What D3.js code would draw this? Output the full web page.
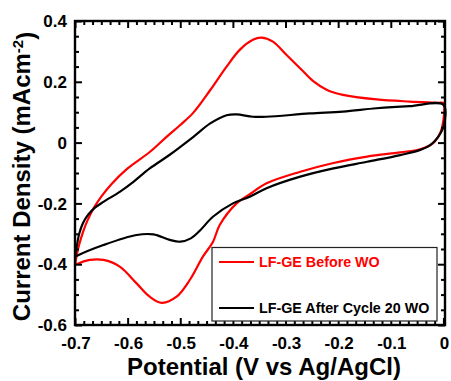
<!DOCTYPE html>
<html>
<head>
<meta charset="utf-8">
<script src="https://cdn.jsdelivr.net/npm/d3@7"></script>
<style>
  html, body { margin: 0; padding: 0; background: #fff; }
  svg { display: block; }
  text { font-family: Arial, "Liberation Sans", sans-serif; font-weight: bold; }
</style>
</head>
<body>
<svg id="chart" width="451" height="381"></svg>
<script>
// ---------- data ----------
const seriesNames = ["LF-GE Before WO", "LF-GE After Cycle 20 WO"];
const seriesColors = ["#ff0000", "#000000"];

const xTickValues = [-0.7, -0.6, -0.5, -0.4, -0.3, -0.2, -0.1, 0];
const xTickLabels = ["-0.7", "-0.6", "-0.5", "-0.4", "-0.3", "-0.2", "-0.1", "0"];
const yTickValues = [-0.6, -0.4, -0.2, 0, 0.2, 0.4];
const yTickLabels = ["-0.6", "-0.4", "-0.2", "0", "0.2", "0.4"];

// Before WO (red): anodic scan -0.7 -> 0, then cathodic scan 0 -> -0.7
const beforePotential = [-0.700, -0.697, -0.692, -0.685, -0.676, -0.664, -0.649, -0.630, -0.600, -0.558,
  -0.526, -0.500, -0.476, -0.443, -0.412, -0.387, -0.362, -0.346, -0.324, -0.298,
  -0.272, -0.248, -0.222, -0.191, -0.127, -0.064, -0.010, 0.000,
  0.000, -0.006, -0.019, -0.044, -0.082, -0.145, -0.209, -0.272, -0.336, -0.368,
  -0.393, -0.425, -0.438, -0.457, -0.482, -0.507, -0.535, -0.558, -0.583, -0.615,
  -0.646, -0.672, -0.697, -0.700];
const beforeCurrent = [-0.403, -0.372, -0.335, -0.295, -0.255, -0.214, -0.175, -0.135, -0.085, -0.031,
  0.019, 0.058, 0.097, 0.173, 0.250, 0.305, 0.338, 0.345, 0.332, 0.288,
  0.244, 0.203, 0.174, 0.157, 0.142, 0.135, 0.131, 0.130,
  0.074, 0.032, -0.001, -0.022, -0.032, -0.046, -0.067, -0.096, -0.134, -0.170,
  -0.200, -0.271, -0.327, -0.375, -0.452, -0.507, -0.527, -0.507, -0.463, -0.408,
  -0.386, -0.386, -0.400, -0.403];

// After cycle 20 WO (black)
const afterPotential = [-0.700, -0.697, -0.692, -0.685, -0.675, -0.662, -0.646, -0.615, -0.589, -0.558, -0.520,
  -0.475, -0.443, -0.412, -0.393, -0.362, -0.336, -0.254, -0.191, -0.127, -0.064, 0.000,
  0.000, -0.010, -0.025, -0.044, -0.082, -0.145, -0.209, -0.272, -0.336, -0.368,
  -0.400, -0.438, -0.463, -0.480, -0.500, -0.520, -0.551, -0.583, -0.646, -0.697, -0.700];
const afterCurrent = [-0.376, -0.345, -0.300, -0.265, -0.237, -0.214, -0.195, -0.162, -0.129, -0.085, -0.040,
  0.019, 0.063, 0.090, 0.093, 0.085, 0.085, 0.096, 0.102, 0.113, 0.120, 0.124,
  0.052, 0.019, -0.008, -0.024, -0.041, -0.063, -0.085, -0.112, -0.150, -0.178,
  -0.200, -0.244, -0.290, -0.315, -0.326, -0.320, -0.302, -0.304, -0.337, -0.373, -0.376];

// ---------- layout ----------
const svg = d3.select("#chart");
const L = 75, R = 445, T = 21, B = 325;
const x = d3.scaleLinear().domain([-0.7, 0.003]).range([L, R]);
const y = d3.scaleLinear().domain([-0.6, 0.4]).range([B, T]);

const xMinor = d3.range(0, 43).map(i => -0.7 + i * 0.1 / 6).filter(v => !xTickValues.some(t => Math.abs(t - v) < 1e-6));
const yMinor = d3.range(0, 21).map(i => -0.6 + i * 0.05).filter(v => !yTickValues.some(t => Math.abs(t - v) < 1e-6));

// ---------- curves ----------
const line = d3.line().x(d => x(d[0])).y(d => y(d[1])).curve(d3.curveCatmullRom.alpha(0.5));
const series = [
  d3.zip(beforePotential, beforeCurrent),
  d3.zip(afterPotential, afterCurrent)
];
const gPlot = svg.append("g");
series.forEach((s, i) => {
  gPlot.append("path").datum(s)
    .attr("d", line)
    .attr("fill", "none")
    .attr("stroke", seriesColors[i])
    .attr("stroke-width", 2.2)
    .attr("stroke-linejoin", "round");
});

// ---------- axes (ticks inward, mirrored) ----------
function styleAxis(g) {
  g.select(".domain").remove();
  g.selectAll(".tick line").attr("stroke", "#000").attr("stroke-width", 2);
}
// bottom
svg.append("g").attr("transform", `translate(0,${B})`)
  .call(d3.axisTop(x).tickValues(xTickValues).tickSize(7).tickFormat(""))
  .call(styleAxis);
svg.append("g").attr("transform", `translate(0,${B})`)
  .call(d3.axisTop(x).tickValues(xMinor).tickSize(4).tickFormat(""))
  .call(styleAxis);
// top
svg.append("g").attr("transform", `translate(0,${T})`)
  .call(d3.axisBottom(x).tickValues(xTickValues).tickSize(7).tickFormat(""))
  .call(styleAxis);
svg.append("g").attr("transform", `translate(0,${T})`)
  .call(d3.axisBottom(x).tickValues(xMinor).tickSize(4).tickFormat(""))
  .call(styleAxis);
// left
svg.append("g").attr("transform", `translate(${L},0)`)
  .call(d3.axisRight(y).tickValues(yTickValues).tickSize(7).tickFormat(""))
  .call(styleAxis);
svg.append("g").attr("transform", `translate(${L},0)`)
  .call(d3.axisRight(y).tickValues(yMinor).tickSize(4).tickFormat(""))
  .call(styleAxis);
// right
svg.append("g").attr("transform", `translate(${R},0)`)
  .call(d3.axisLeft(y).tickValues(yTickValues).tickSize(7).tickFormat(""))
  .call(styleAxis);
svg.append("g").attr("transform", `translate(${R},0)`)
  .call(d3.axisLeft(y).tickValues(yMinor).tickSize(4).tickFormat(""))
  .call(styleAxis);

// frame
svg.append("rect").attr("x", L).attr("y", T).attr("width", R - L).attr("height", B - T)
  .attr("fill", "none").attr("stroke", "#000").attr("stroke-width", 2.4);

// tick labels
svg.append("g").selectAll("text").data(xTickValues).join("text")
  .attr("x", d => x(d) + 1).attr("y", 349)
  .attr("text-anchor", "middle").attr("font-size", 17)
  .text((d, i) => xTickLabels[i]);
svg.append("g").selectAll("text").data(yTickValues).join("text")
  .attr("x", 67).attr("y", d => y(d)).attr("dy", "0.36em")
  .attr("text-anchor", "end").attr("font-size", 17)
  .text((d, i) => yTickLabels[i]);

// axis titles
svg.append("text").attr("x", 264).attr("y", 375)
  .attr("text-anchor", "middle").attr("font-size", 24)
  .text("Potential (V vs Ag/AgCl)");
const yt = svg.append("text")
  .attr("transform", "translate(29.5,176.5) rotate(-90)")
  .attr("text-anchor", "middle").attr("font-size", 24);
yt.append("tspan").text("Current Density (mAcm");
yt.append("tspan").attr("dy", "-0.45em").attr("font-size", 15).text("-2");
yt.append("tspan").attr("dy", "0.45em").text(")");

// legend
const lg = svg.append("g");
lg.append("rect").attr("x", 212).attr("y", 247.5).attr("width", 225).attr("height", 73.5)
  .attr("fill", "#fff").attr("stroke", "#222").attr("stroke-width", 1.2);
const legendY = [262, 308];
seriesNames.forEach((name, i) => {
  lg.append("line").attr("x1", 219).attr("x2", 254).attr("y1", legendY[i]).attr("y2", legendY[i])
    .attr("stroke", seriesColors[i]).attr("stroke-width", 2.2);
  lg.append("text").attr("x", 259).attr("y", legendY[i] + 5)
    .attr("font-size", 14.3).attr("fill", seriesColors[i]).text(name);
});
</script>
</body>
</html>
